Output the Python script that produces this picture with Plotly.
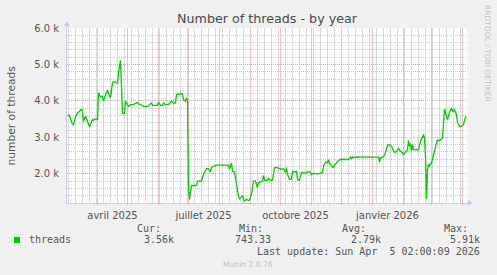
import plotly.graph_objects as go
import pandas as pd

# ---------------- data ----------------
START = "2025-03-02"          # left edge of the time axis
END = "2026-04-06"            # right edge of the time axis
DAY = [0, 2, 5, 6, 8, 10, 12, 14, 15, 16, 18, 20, 22, 25, 26, 28, 30, 31, 33, 35,
       36, 38, 40, 41, 43, 45, 46, 48, 50, 51, 53, 54, 55, 57, 58, 60, 61, 63, 66, 70,
       71, 73, 76, 80, 82, 84, 85, 90, 91, 93, 95, 96, 98, 101, 104, 106, 108, 109, 111, 115,
       116, 118, 119, 120, 121, 122, 124, 129, 130, 134, 136, 139, 141, 143, 144, 146, 149, 161, 162, 164,
       165, 167, 169, 171, 172, 174, 175, 177, 179, 181, 182, 184, 186, 188, 190, 191, 193, 195, 196, 197,
       200, 201, 203, 205, 207, 210, 212, 215, 216, 218, 219, 220, 222, 224, 225, 227, 229, 230, 232, 234,
       236, 238, 240, 242, 244, 246, 250, 253, 255, 256, 258, 260, 261, 262, 264, 266, 267, 269, 270, 272,
       275, 277, 279, 281, 283, 284, 285, 286, 288, 290, 291, 295, 310, 311, 312, 313, 315, 316, 318, 320,
       321, 323, 325, 326, 328, 330, 331, 333, 335, 336, 338, 340, 341, 342, 343, 344, 345, 346, 348, 351,
       353, 355, 356, 357, 358, 359, 360, 361, 362, 364, 366, 367, 369, 370, 371, 373, 375, 376, 377, 379,
       380, 382, 384, 385, 387, 389, 390, 392, 394, 396, 397, 398, 399]
THREADS_K = [3.60, 3.60, 3.35, 3.35, 3.56, 3.67, 3.71, 3.78, 3.71, 3.44, 3.58, 3.40, 3.29, 3.49, 3.47, 3.50, 3.49, 4.22, 4.11, 4.13,
             3.99, 4.17, 4.29, 4.22, 4.08, 4.49, 4.53, 4.51, 4.49, 4.76, 5.11, 4.40, 3.65, 3.65, 3.99, 3.90, 3.85, 3.90, 3.90, 3.96,
             3.92, 3.90, 3.85, 3.85, 3.90, 3.94, 3.88, 3.88, 3.96, 3.88, 3.88, 3.94, 3.90, 3.90, 3.99, 3.94, 3.94, 4.17, 4.19, 4.19,
             4.03, 3.99, 4.08, 4.03, 1.66, 1.30, 1.68, 1.68, 1.80, 1.80, 1.98, 2.14, 2.14, 2.05, 2.18, 2.21, 2.24, 2.24, 2.12, 2.30,
             2.07, 2.05, 1.66, 1.39, 1.30, 1.39, 1.40, 1.25, 1.30, 1.27, 1.28, 1.44, 1.80, 1.80, 1.62, 1.76, 1.78, 1.80, 1.96, 1.82,
             1.82, 1.88, 1.82, 1.82, 2.17, 2.17, 2.14, 2.12, 2.14, 2.03, 2.17, 1.98, 1.85, 1.85, 2.07, 2.05, 2.07, 1.85, 1.82, 2.03,
             2.03, 2.02, 2.04, 2.07, 1.98, 2.01, 2.00, 2.01, 2.03, 2.21, 2.32, 2.31, 2.39, 2.28, 2.21, 2.17, 2.23, 2.30, 2.35, 2.39,
             2.40, 2.39, 2.40, 2.39, 2.46, 2.41, 2.46, 2.44, 2.46, 2.45, 2.47, 2.46, 2.46, 2.46, 2.32, 2.44, 2.46, 2.47, 2.58, 2.78,
             2.80, 2.78, 2.71, 2.62, 2.58, 2.67, 2.69, 2.62, 2.58, 2.53, 2.59, 2.66, 2.92, 2.76, 2.83, 2.62, 2.80, 2.67, 2.66, 2.66,
             2.89, 3.03, 3.08, 2.99, 2.48, 1.30, 2.12, 2.26, 2.21, 2.30, 2.48, 2.62, 2.85, 2.94, 2.90, 2.93, 2.99, 3.40, 3.78, 3.58,
             3.49, 3.69, 3.81, 3.71, 3.76, 3.62, 3.41, 3.30, 3.30, 3.35, 3.49, 3.56, 3.56]
assert len(DAY) == len(THREADS_K), (len(DAY), len(THREADS_K))

Y_TICKS = [2000, 3000, 4000, 5000, 6000]
Y_TICK_LABELS = ["2.0 k", "3.0 k", "4.0 k", "5.0 k", "6.0 k"]
Y_RANGE = [1200, 6000]
Y_MINOR_STEP = 200
WEEK_START = "2025-03-03"
MONTH_STARTS = ["2025-04-01", "2025-05-01", "2025-06-01", "2025-07-01", "2025-08-01",
                "2025-09-01", "2025-10-01", "2025-11-01", "2025-12-01", "2026-01-01",
                "2026-02-01", "2026-03-01", "2026-04-01"]
LABEL_DATES = ["2025-04-16", "2025-07-16", "2025-10-16", "2026-01-16"]
X_LABELS = ["avril 2025", "juillet 2025", "octobre 2025", "janvier 2026"]
SERIES_NAME = "threads"
LEGEND_HEADS = ["Cur:", "Min:", "Avg:", "Max:"]
LEGEND_VALUES = ["3.56k", "743.33", "2.79k", "5.91k"]
TITLE = "Number of threads - by year"
Y_TITLE = "number of threads"
LAST_UPDATE = "Last update: Sun Apr\u00a0\u00a05 02:00:09 2026"
FOOTER = "Munin 2.0.76"
WATERMARK = "RRDTOOL / TOBI OETIKER"

# ---------------- geometry / style ----------------
W, H = 497, 275
ML, MR, MT, MB = 67, 30, 28, 72
PW, PH = W - ML - MR, H - MT - MB


def px(x):
    return (x - ML) / PW


def py(y):
    return (H - MB - y) / PH


GREEN = "#00CC00"
TXT = "#555555"
MAJ = "#EBA0A0"
MIN = "#C8C8C8"
MAJ_V = "#F0C0C0"
MIN_V = "#DADADA"
DASH = "1px,1px"
AXC = "#C8C8F4"
SANS = "DejaVu Sans"
MONO = "DejaVu Sans Mono"

half = pd.Timedelta(hours=12)
t0 = pd.to_datetime(START)
t1 = pd.to_datetime(END)
fmt = "%Y-%m-%d %H:%M"
x_range = [(t0 - half).strftime(fmt), (t1 - half).strftime(fmt)]
dates = (t0 + pd.to_timedelta(DAY, unit="D")).strftime(fmt).tolist()
values = [v * 1000 for v in THREADS_K]
weeks = pd.date_range(WEEK_START, t1, freq="7D").strftime(fmt).tolist()

fig = go.Figure()
fig.add_trace(go.Scatter(x=dates, y=values, mode="lines", name=SERIES_NAME,
                         line=dict(color=GREEN, width=1.3), hoverinfo="skip",
                         showlegend=False))

fig.update_layout(
    width=W, height=H, autosize=False,
    margin=dict(l=ML, r=MR, t=MT, b=MB, pad=0),
    paper_bgcolor="#F0F0F0", plot_bgcolor="#FFFFFF",
    title=dict(text=TITLE, x=0.5, xref="paper", xanchor="center",
               y=1 - 19 / H, yref="container", yanchor="middle",
               font=dict(family=SANS, size=12.7, color="#4A4A4A")),
    xaxis=dict(type="date", range=x_range, tickmode="array", tickvals=LABEL_DATES,
               ticktext=X_LABELS, showgrid=False, ticks="", ticklabelstandoff=3,
               tickfont=dict(family=SANS, size=10, color=TXT),
               showline=True, linecolor=AXC, linewidth=1, zeroline=False, fixedrange=True),
    yaxis=dict(range=Y_RANGE, tickmode="array", tickvals=Y_TICKS, ticktext=Y_TICK_LABELS,
               showgrid=True, gridcolor=MAJ, griddash=DASH, gridwidth=1,
               minor=dict(tick0=0, dtick=Y_MINOR_STEP, showgrid=True, gridcolor=MIN,
                          griddash=DASH, gridwidth=1, ticks=""),
               ticks="", ticklabelstandoff=5,
               tickfont=dict(family=SANS, size=10, color=TXT),
               showline=True, linecolor=AXC, linewidth=1, zeroline=False, fixedrange=True),
)

shapes = []
month_set = set(pd.to_datetime(MONTH_STARTS).strftime(fmt))
for w in weeks:
    if w in month_set:
        continue
    shapes.append(dict(type="line", xref="x", yref="paper", x0=w, x1=w, y0=0, y1=1,
                       layer="below", line=dict(color=MIN_V, width=1)))
for m in pd.to_datetime(MONTH_STARTS).strftime(fmt):
    shapes.append(dict(type="line", xref="x", yref="paper", x0=m, x1=m, y0=0, y1=1,
                       layer="below", line=dict(color=MAJ_V, width=1)))
    shapes.append(dict(type="line", xref="x", yref="paper", x0=m, x1=m, y0=0, y1=-2 / PH,
                       line=dict(color="#BBBBBB", width=1)))

shapes += [
    dict(type="line", xref="paper", yref="paper", x0=px(67), x1=px(67), y0=py(28), y1=py(23),
         line=dict(color=AXC, width=1)),
    dict(type="path", xref="paper", yref="paper",
         path=f"M {px(64)},{py(26)} L {px(70)},{py(26)} L {px(67)},{py(21)} Z",
         fillcolor=AXC, line=dict(color=AXC, width=0)),
    dict(type="line", xref="paper", yref="paper", x0=px(467), x1=px(469), y0=py(203), y1=py(203),
         line=dict(color=AXC, width=1)),
    dict(type="path", xref="paper", yref="paper",
         path=f"M {px(468)},{py(200)} L {px(468)},{py(206)} L {px(473)},{py(203)} Z",
         fillcolor=AXC, line=dict(color=AXC, width=0)),
    dict(type="rect", xref="paper", yref="paper", x0=px(14), x1=px(20), y0=py(243), y1=py(237),
         fillcolor=GREEN, line=dict(width=0)),
]
fig.update_layout(shapes=shapes)

ann = []


def text(t, x, y, xa="left", ya="middle", size=10, fam=MONO, color=TXT, angle=0):
    ann.append(dict(text=t, x=px(x), y=py(y), xref="paper", yref="paper",
                    xanchor=xa, yanchor=ya, showarrow=False, textangle=angle,
                    font=dict(family=fam, size=size, color=color)))


text(Y_TITLE, 11, 115.5, xa="center", fam=SANS, size=10.7, angle=-90)
text(WATERMARK, 487.5, 53.5, xa="center", fam=SANS, size=7.5, color="#C4C4C4", angle=90)
text(SERIES_NAME, 27, 239.5)
head_right = [163, 265, 368, 470]
val_right = [176, 273, 383, 482]
for h_, v_, hr, vr in zip(LEGEND_HEADS, LEGEND_VALUES, head_right, val_right):
    text(h_, hr, 228.5, xa="right")
    text(v_, vr, 239.5, xa="right")
text(LAST_UPDATE, 482, 251, xa="right")
text(FOOTER, 248, 264.5, xa="center", fam=SANS, size=7.6, color="#C0C0C0")
fig.update_layout(annotations=ann)

fig.write_html("out.html")
